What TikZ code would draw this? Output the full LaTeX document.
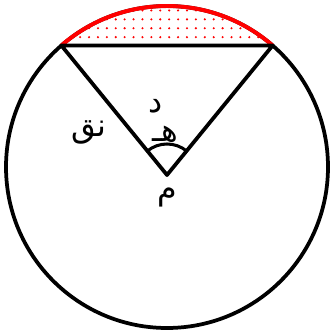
\documentclass[tikz,border=0pt]{standalone}
\usepackage{fontspec}
\newfontfamily\arabicfont[Script=Arabic]{DejaVu Sans}
\TeXXeTstate=1
\usetikzlibrary{calc,patterns.meta}

\begin{document}
\begin{tikzpicture}[x=0.03cm, y=0.03cm, line join=round,
  edge/.style={draw=black, line width=3.2pt},
  lbl/.style={font=\fontsize{27}{30}\selectfont\arabicfont, inner sep=0pt}]
\useasboundingbox (0,0) rectangle (333,331);
\coordinate (o) at (167,164);
\coordinate (m) at (167,156);
\coordinate (a) at ($(o)+(131:161)$);
\coordinate (b) at ($(o)+(49:161)$);
% shaded segment
\fill[pattern={Dots[distance=7.6pt, radius=1pt]}, pattern color=red]
  (a) arc[start angle=131, end angle=49, radius=161] -- cycle;
\draw[edge] (o) circle[radius=161];
\draw[red, line width=3.4pt] (a) arc[start angle=131, end angle=49, radius=161];
\draw[edge] (a) -- (b) -- (m) -- cycle;
\draw[line width=2.6pt] ($(m)+(129:31)$) arc[start angle=129, end angle=51, radius=31];
\node[lbl] (nq) at (89,199) {\beginR نق\endR};
\node[lbl] (he) at (165,197) {\beginR هـ\endR};
\node[lbl] (dal) at (156,225) {\beginR د\endR};
\node[lbl] (mim) at (167,134) {\beginR م\endR};
\end{tikzpicture}
\end{document}
